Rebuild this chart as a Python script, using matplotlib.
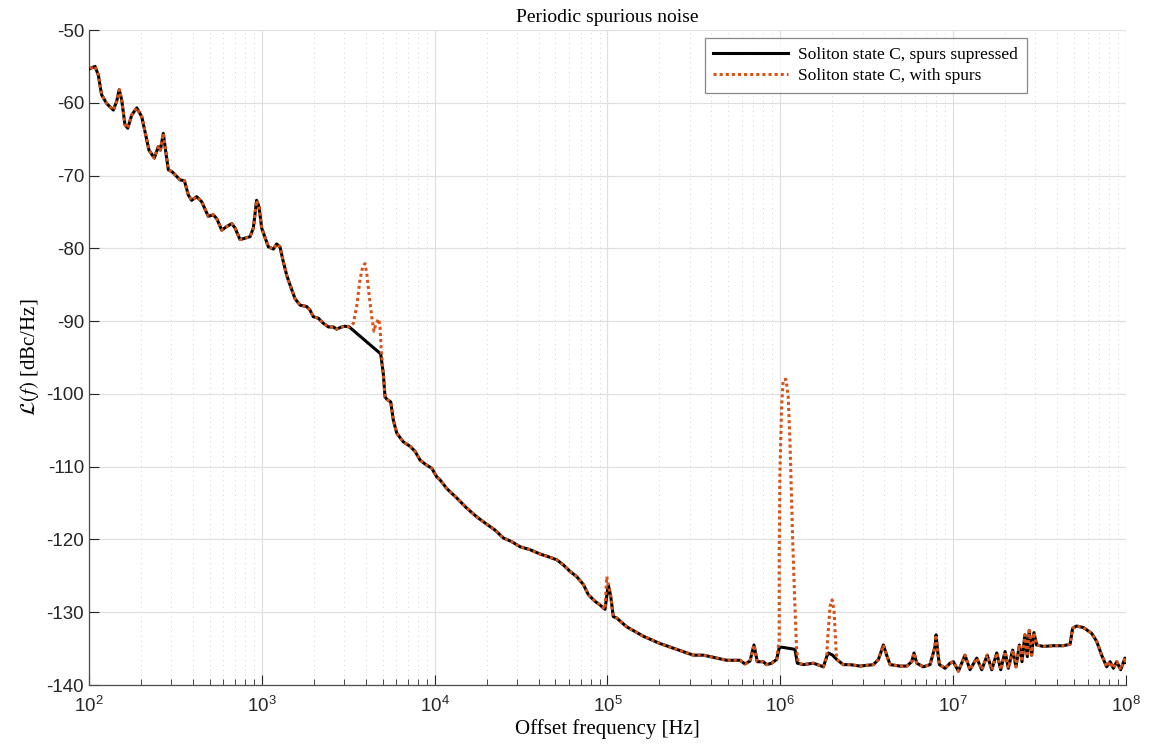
"""Periodic spurious noise: phase noise of soliton state C with and without spurs."""

import matplotlib

matplotlib.use("Agg")
import matplotlib.pyplot as plt
import numpy as np
from matplotlib.ticker import FixedLocator, LogLocator, NullFormatter

# ---- data ----------------------------------------------------------------
# offset frequency as log10(Hz), phase noise in dBc/Hz
log_f_black = [
    2.006, 2.035, 2.054, 2.073, 2.102, 2.141, 2.160, 2.175, 2.189, 2.208,
    2.224, 2.247, 2.276, 2.305, 2.324, 2.347, 2.378, 2.401, 2.413, 2.430,
    2.444, 2.459, 2.482, 2.527, 2.552, 2.575, 2.594, 2.623, 2.652, 2.690,
    2.719, 2.739, 2.768, 2.797, 2.826, 2.845, 2.874, 2.903, 2.932, 2.951,
    2.970, 2.984, 2.999, 3.038, 3.067, 3.086, 3.105, 3.124, 3.144, 3.163,
    3.192, 3.221, 3.260, 3.279, 3.298, 3.327, 3.356, 3.385, 3.414, 3.433,
    3.462, 3.481, 3.506, 3.688, 3.703, 3.713, 3.726, 3.746, 3.761, 3.781,
    3.819, 3.858, 3.887, 3.916, 3.954, 3.983, 4.012, 4.031, 4.070, 4.128,
    4.186, 4.244, 4.301, 4.349, 4.398, 4.446, 4.494, 4.552, 4.610, 4.649,
    4.707, 4.745, 4.784, 4.822, 4.861, 4.890, 4.928, 4.957, 4.986, 5.005,
    5.019, 5.034, 5.054, 5.111, 5.208, 5.304, 5.401, 5.497, 5.555, 5.596,
    5.632, 5.690, 5.767, 5.796, 5.825, 5.848, 5.867, 5.902, 5.921, 5.950,
    5.979, 5.994, 6.008, 6.085, 6.099, 6.134, 6.192, 6.250, 6.269, 6.279,
    6.303, 6.327, 6.365, 6.404, 6.462, 6.539, 6.568, 6.597, 6.616, 6.636,
    6.693, 6.732, 6.761, 6.774, 6.790, 6.828, 6.867, 6.896, 6.902, 6.910,
    6.921, 6.954, 6.983, 7.002, 7.031, 7.069, 7.098, 7.137, 7.166, 7.198,
    7.224, 7.253, 7.276, 7.301, 7.320, 7.345, 7.364, 7.384, 7.399, 7.416,
    7.430, 7.441, 7.455, 7.468, 7.484, 7.522, 7.580, 7.638, 7.677, 7.692,
    7.715, 7.754, 7.802, 7.831, 7.860, 7.889, 7.909, 7.928, 7.947, 7.970,
    7.995, 8.000,
]
level_black = [
    -55.3, -55.0, -56.2, -58.9, -60.1, -61.0, -59.8, -58.2, -59.6, -63.0,
    -63.5, -61.7, -60.7, -61.9, -64.0, -66.5, -67.6, -66.0, -66.5, -64.2,
    -66.7, -69.2, -69.5, -70.6, -70.7, -72.7, -73.4, -72.9, -73.6, -75.6,
    -75.4, -75.9, -77.5, -77.0, -76.6, -77.2, -78.8, -78.6, -78.4, -77.2,
    -73.4, -74.3, -77.2, -79.8, -80.1, -79.4, -79.8, -81.8, -83.7, -85.0,
    -86.9, -87.8, -88.0, -88.5, -89.4, -89.6, -90.3, -90.8, -90.8, -91.1,
    -90.8, -90.7, -90.8, -94.5, -97.2, -100.4, -100.8, -101.1, -103.6, -105.4,
    -106.6, -107.2, -107.9, -109.1, -109.8, -110.2, -111.4, -111.8, -113.0, -114.3,
    -115.7, -116.9, -117.9, -118.7, -119.8, -120.3, -121.0, -121.4, -122.0, -122.3,
    -122.8, -123.5, -124.4, -125.1, -126.2, -127.6, -128.5, -129.0, -129.6, -126.2,
    -127.8, -130.6, -130.8, -132.0, -133.3, -134.3, -135.1, -135.9, -135.9, -136.1,
    -136.3, -136.6, -136.6, -137.1, -136.7, -134.5, -136.8, -136.8, -137.2, -137.0,
    -136.5, -134.9, -134.8, -135.1, -137.0, -137.2, -137.0, -137.5, -136.1, -135.6,
    -135.9, -136.5, -137.2, -137.2, -137.4, -137.2, -136.5, -134.5, -135.9, -137.2,
    -137.4, -137.4, -136.8, -135.6, -137.0, -137.5, -137.2, -134.7, -133.1, -135.2,
    -137.2, -137.7, -137.0, -136.8, -138.1, -135.9, -137.9, -136.3, -137.9, -135.9,
    -137.9, -135.6, -137.9, -135.4, -137.7, -135.2, -137.5, -134.5, -136.8, -133.1,
    -136.1, -132.5, -135.9, -132.8, -134.5, -134.7, -134.6, -134.6, -134.4, -132.2,
    -131.9, -132.1, -132.9, -134.0, -135.9, -137.5, -136.8, -137.7, -136.8, -137.9,
    -136.3, -136.9,
]

# segments where the spurs are present (replace the black trace in these ranges)
log_f_spur_4k = [3.506, 3.530, 3.549, 3.568, 3.584, 3.597, 3.607, 3.622, 3.636,
                 3.649, 3.661, 3.677, 3.684, 3.692]
level_spur_4k = [-90.8, -90.3, -88.0, -84.3, -82.5, -82.1, -83.4, -86.6, -89.4,
                 -91.4, -90.3, -89.7, -90.8, -94.4]
log_f_spur_100k = [4.996]
level_spur_100k = [-125.1]
log_f_spur_1m = [5.994, 5.994, 5.998, 6.008, 6.017, 6.033, 6.046, 6.056, 6.072,
                 6.085, 6.095, 6.105]
level_spur_1m = [-133.8, -122.3, -110.9, -101.7, -98.1, -98.0, -100.4, -106.3,
                 -120.1, -129.2, -135.2, -137.0]
log_f_spur_2m = [6.274, 6.288, 6.300, 6.311, 6.323]
level_spur_2m = [-133.8, -129.2, -128.3, -129.7, -135.2]

decade_ticks = [1e2, 1e3, 1e4, 1e5, 1e6, 1e7, 1e8]

LABEL_BLACK = "Soliton state C, spurs supressed"
LABEL_SPURS = "Soliton state C, with spurs"
ORANGE = "#D95319"


def _with_spurs(lf, lv, segments):
    """Splice spur segments into the base trace."""
    lf = list(lf)
    lv = list(lv)
    for seg_f, seg_v in segments:
        lo, hi = min(seg_f), max(seg_f)
        keep = [(f, v) for f, v in zip(lf, lv) if not (lo <= f <= hi)]
        keep += list(zip(seg_f, seg_v))
        keep.sort(key=lambda p: p[0])
        lf = [p[0] for p in keep]
        lv = [p[1] for p in keep]
    return np.array(lf), np.array(lv)


plt.rcParams["font.family"] = ["Liberation Sans", "DejaVu Sans"]
plt.rcParams["mathtext.fontset"] = "custom"
plt.rcParams["mathtext.rm"] = "Liberation Sans"
plt.rcParams["mathtext.it"] = "Liberation Sans:italic"
plt.rcParams["axes.unicode_minus"] = False

lf_s, lv_s = _with_spurs(
    log_f_black,
    level_black,
    [
        (log_f_spur_4k, level_spur_4k),
        (log_f_spur_1m, level_spur_1m),
        (log_f_spur_2m, level_spur_2m),
    ],
)
# the 100 kHz spur is only a slightly higher peak: insert the point
lf_s = np.append(lf_s, log_f_spur_100k)
lv_s = np.append(lv_s, level_spur_100k)
order = np.argsort(lf_s, kind="stable")
lf_s, lv_s = lf_s[order], lv_s[order]

fig = plt.figure(figsize=(11.5, 7.54), dpi=100)
ax = fig.add_axes([0.0774, 0.0915, 0.9016, 0.8687])

ax.semilogx(10 ** np.array(log_f_black), level_black, color="black",
            linewidth=2.2, label=LABEL_BLACK, zorder=3)
ax.semilogx(10 ** lf_s, lv_s, color=ORANGE, linestyle=(0, (1.0, 1.0)),
            linewidth=2.2, label=LABEL_SPURS, zorder=4)

ax.set_xlim(1e2, 1e8)
ax.set_ylim(-140, -50)
ax.set_yticks(np.arange(-140, -49, 10))
ax.xaxis.set_major_locator(FixedLocator(decade_ticks))
ax.xaxis.set_minor_locator(LogLocator(base=10, subs=np.arange(2, 10), numticks=100))
ax.xaxis.set_minor_formatter(NullFormatter())

ax.grid(True, which="major", color="#e0e0e0", linewidth=0.9, linestyle="-")
ax.grid(True, which="minor", axis="x", color="#d4d4d4", linewidth=0.7,
        linestyle=(0, (1, 4)))
ax.set_axisbelow(True)

for side in ("top", "right"):
    ax.spines[side].set_visible(False)
for side in ("left", "bottom"):
    ax.spines[side].set_color("#4d4d4d")
    ax.spines[side].set_linewidth(0.9)

ax.tick_params(which="both", direction="in", colors="#262626", labelsize=13.5)
ax.tick_params(which="major", length=7)
ax.tick_params(which="minor", length=4)
ax.tick_params(axis="x", pad=8)

ax.set_title("Periodic spurious noise", fontfamily="Liberation Serif",
             fontsize=14, pad=6)
ax.set_xlabel("Offset frequency [Hz]", fontfamily="Liberation Serif",
              fontsize=15, labelpad=2)
ax.set_ylabel(r"$\mathcal{L}(f)$ [dBc/Hz]", fontfamily="Liberation Serif",
              math_fontfamily="stix", fontsize=15, labelpad=4)

leg = ax.legend(loc="upper right", bbox_to_anchor=(0.9045, 0.988),
                borderaxespad=0.0,
                prop={"family": "Liberation Serif", "size": 12.5},
                frameon=True, fancybox=False, handlelength=4.3,
                borderpad=0.5, labelspacing=0.3, handletextpad=0.6)
leg.get_frame().set_edgecolor("#6a6a6a")
leg.get_frame().set_linewidth(0.9)

fig.savefig("out.png", dpi=100)
